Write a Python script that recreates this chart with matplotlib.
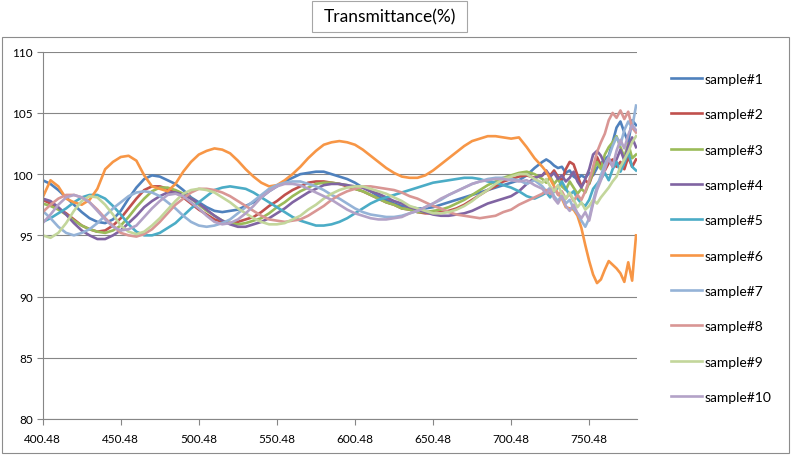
import matplotlib
matplotlib.use("Agg")
import matplotlib.pyplot as plt
from matplotlib.patches import Rectangle

# wavelength grid (nm): 5 nm steps up to 720, then 2.5 nm for the noisy end
wavelength = [
    400.48, 405.48, 410.48, 415.48, 420.48, 425.48, 430.48, 435.48, 440.48, 445.48, 450.48, 455.48, 460.48,
    465.48, 470.48, 475.48, 480.48, 485.48, 490.48, 495.48, 500.48, 505.48, 510.48, 515.48, 520.48, 525.48,
    530.48, 535.48, 540.48, 545.48, 550.48, 555.48, 560.48, 565.48, 570.48, 575.48, 580.48, 585.48, 590.48,
    595.48, 600.48, 605.48, 610.48, 615.48, 620.48, 625.48, 630.48, 635.48, 640.48, 645.48, 650.48, 655.48,
    660.48, 665.48, 670.48, 675.48, 680.48, 685.48, 690.48, 695.48, 700.48, 705.48, 710.48, 715.48, 720.48,
    722.98, 725.48, 727.98, 730.48, 732.98, 735.48, 737.98, 740.48, 742.98, 745.48, 747.98, 750.48,
    752.98, 755.48, 757.98, 760.48, 762.98, 765.48, 767.98, 770.48, 772.98, 775.48, 777.98, 780.48,
]

sample1 = [
    99.5, 99.2, 98.7, 98.1, 97.5, 96.9, 96.4, 96.1, 96.0, 96.3, 97.0, 98.0, 98.9,
    99.6, 99.9, 99.8, 99.5, 99.2, 98.7, 98.1, 97.7, 97.3, 97.0, 96.9, 97.0, 97.1,
    97.4, 97.7, 98.1, 98.6, 99.0, 99.4, 99.7, 100.0, 100.1, 100.2, 100.2, 100.0, 99.8,
    99.6, 99.3, 98.9, 98.6, 98.2, 97.9, 97.6, 97.4, 97.3, 97.2, 97.2, 97.3, 97.5,
    97.7, 97.9, 98.1, 98.3, 98.5, 98.7, 98.9, 99.1, 99.3, 99.5, 99.9, 100.5, 101.0,
    101.2, 101.0, 100.7, 100.5, 100.6, 100.1, 100.3, 99.8, 99.6, 99.9, 99.7, 100.1,
    99.9, 100.5, 100.9, 101.2, 101.5, 102.6, 103.8, 104.3, 103.4, 102.6, 104.4, 104.0,
]
sample2 = [
    97.9, 97.6, 97.2, 96.8, 96.3, 95.8, 95.5, 95.3, 95.4, 95.8, 96.4, 97.2, 98.0,
    98.7, 99.0, 99.0, 98.8, 98.5, 98.1, 97.6, 97.1, 96.7, 96.3, 96.1, 96.0, 96.1,
    96.3, 96.5, 96.9, 97.4, 97.8, 98.3, 98.7, 99.0, 99.3, 99.4, 99.4, 99.3, 99.2,
    99.0, 98.8, 98.6, 98.3, 98.0, 97.7, 97.5, 97.2, 97.1, 96.9, 96.8, 96.8, 96.9,
    97.0, 97.2, 97.5, 97.9, 98.3, 98.7, 99.0, 99.4, 99.6, 99.8, 99.9, 99.7, 99.9,
    100.2, 99.9, 100.3, 99.8, 99.5, 100.4, 101.0, 100.8, 99.9, 99.0, 99.5, 99.2,
    100.1, 101.4, 100.7, 100.3, 100.9, 101.2, 100.6, 101.0, 100.4, 101.4, 100.6, 101.2,
]
sample3 = [
    97.6, 97.4, 97.1, 96.7, 96.2, 95.8, 95.5, 95.3, 95.2, 95.4, 95.8, 96.5, 97.3,
    98.0, 98.6, 98.9, 98.9, 98.7, 98.4, 98.0, 97.5, 97.0, 96.6, 96.2, 96.0, 95.9,
    96.0, 96.2, 96.4, 96.8, 97.3, 97.7, 98.2, 98.6, 98.9, 99.2, 99.3, 99.3, 99.2,
    99.1, 98.8, 98.6, 98.3, 98.0, 97.7, 97.5, 97.2, 97.1, 96.9, 96.9, 97.0, 97.1,
    97.3, 97.6, 97.9, 98.3, 98.7, 99.1, 99.4, 99.7, 99.9, 100.1, 100.2, 100.0, 99.6,
    99.3, 99.8, 99.2, 99.6, 99.0, 98.7, 99.4, 98.9, 98.4, 98.8, 98.5, 99.3,
    100.2, 101.0, 100.4, 101.6, 102.2, 102.6, 103.1, 102.2, 101.4, 102.5, 101.3, 101.6,
]
sample4 = [
    98.0, 97.8, 97.3, 96.7, 96.0, 95.4, 95.0, 94.7, 94.7, 95.0, 95.4, 96.0, 96.6,
    97.3, 97.8, 98.2, 98.5, 98.5, 98.3, 98.0, 97.6, 97.1, 96.6, 96.2, 95.9, 95.7,
    95.7, 95.9, 96.1, 96.4, 96.8, 97.2, 97.7, 98.1, 98.5, 98.8, 99.1, 99.2, 99.2,
    99.1, 99.0, 98.9, 98.6, 98.4, 98.1, 97.8, 97.6, 97.3, 97.1, 96.9, 96.7, 96.6,
    96.6, 96.7, 96.8, 97.0, 97.3, 97.6, 97.8, 98.0, 98.2, 98.6, 99.2, 99.7, 99.9,
    100.3, 99.8, 100.1, 99.6, 99.9, 99.4, 99.7, 100.2, 99.4, 98.9, 99.6, 100.4,
    101.6, 101.9, 101.5, 100.8, 101.3, 100.6, 101.2, 102.0, 101.1, 102.3, 103.0, 102.2,
]
sample5 = [
    96.1, 96.4, 96.8, 97.2, 97.7, 98.1, 98.3, 98.3, 98.0, 97.4, 96.7, 95.9, 95.3,
    95.0, 95.0, 95.2, 95.6, 96.0, 96.6, 97.2, 97.7, 98.2, 98.7, 98.9, 99.0, 98.9,
    98.8, 98.5, 98.1, 97.7, 97.3, 96.9, 96.5, 96.2, 96.0, 95.8, 95.8, 95.9, 96.1,
    96.4, 96.8, 97.2, 97.6, 97.9, 98.1, 98.3, 98.5, 98.7, 98.9, 99.1, 99.3, 99.4,
    99.5, 99.6, 99.7, 99.7, 99.6, 99.4, 99.3, 99.1, 98.9, 98.6, 98.2, 98.0, 98.3,
    98.5, 98.1, 98.6, 98.9, 99.4, 98.8, 98.3, 98.6, 98.0, 97.6, 97.4, 97.9,
    98.8, 99.2, 99.6, 100.1, 99.5, 100.4, 101.0, 100.2, 100.9, 101.8, 100.6, 100.3,
]
sample6 = [
    98.1, 99.5, 99.0, 98.0, 97.7, 97.5, 97.9, 98.8, 100.4, 101.0, 101.4, 101.5, 101.1,
    99.9, 99.0, 98.8, 98.6, 99.2, 100.2, 101.0, 101.6, 101.9, 102.1, 102.0, 101.7, 101.1,
    100.4, 99.8, 99.3, 99.0, 99.1, 99.5, 100.0, 100.6, 101.3, 101.9, 102.4, 102.6, 102.7,
    102.6, 102.4, 102.0, 101.5, 101.0, 100.5, 100.1, 99.8, 99.7, 99.7, 99.9, 100.3, 100.8,
    101.3, 101.8, 102.3, 102.7, 102.9, 103.1, 103.1, 103.0, 102.9, 103.0, 102.2, 101.3, 100.6,
    100.2, 99.6, 99.0, 98.4, 98.0, 97.3, 97.2, 97.1, 96.6, 95.6, 94.2, 92.9,
    91.8, 91.1, 91.4, 92.2, 92.9, 92.6, 92.3, 91.9, 91.2, 92.8, 91.3, 95.0,
]
sample7 = [
    97.0, 96.4, 95.7, 95.2, 95.0, 95.2, 95.5, 96.0, 96.6, 97.2, 97.7, 98.2, 98.5,
    98.6, 98.5, 98.2, 97.7, 97.2, 96.6, 96.1, 95.8, 95.7, 95.8, 96.0, 96.3, 96.8,
    97.3, 97.8, 98.3, 98.8, 99.1, 99.3, 99.4, 99.4, 99.2, 99.0, 98.7, 98.3, 98.0,
    97.6, 97.2, 96.9, 96.7, 96.6, 96.5, 96.5, 96.6, 96.8, 97.0, 97.3, 97.6, 97.9,
    98.3, 98.6, 98.9, 99.2, 99.4, 99.6, 99.7, 99.7, 99.6, 99.5, 99.2, 99.5, 99.0,
    98.6, 98.9, 98.2, 97.8, 98.3, 97.6, 97.9, 97.2, 96.8, 96.2, 95.7, 96.4,
    97.8, 99.0, 99.9, 100.8, 101.4, 102.3, 103.0, 102.4, 103.6, 104.3, 103.8, 105.6,
]
sample8 = [
    96.9, 97.5, 98.0, 98.3, 98.3, 98.1, 97.7, 97.1, 96.4, 95.8, 95.2, 95.0, 94.9,
    95.1, 95.5, 96.1, 96.8, 97.5, 98.0, 98.5, 98.8, 98.8, 98.7, 98.5, 98.2, 97.8,
    97.4, 97.0, 96.6, 96.3, 96.2, 96.1, 96.2, 96.3, 96.6, 97.0, 97.4, 97.9, 98.3,
    98.6, 98.8, 99.0, 99.0, 98.9, 98.8, 98.7, 98.5, 98.2, 98.0, 97.7, 97.4, 97.2,
    96.9, 96.7, 96.6, 96.5, 96.4, 96.5, 96.6, 96.9, 97.1, 97.5, 97.8, 98.1, 98.4,
    98.7, 98.4, 98.9, 98.3, 98.6, 98.0, 98.4, 97.8, 98.3, 97.9, 98.6, 99.5,
    100.6, 101.8, 102.6, 103.3, 104.4, 105.0, 104.6, 105.2, 104.5, 105.1, 103.8, 103.4,
]
sample9 = [
    95.0, 94.8, 95.2, 96.0, 97.0, 97.8, 98.2, 98.1, 97.5, 96.7, 95.8, 95.3, 95.1,
    95.3, 95.8, 96.4, 97.1, 97.8, 98.4, 98.7, 98.8, 98.7, 98.5, 98.1, 97.7, 97.2,
    96.8, 96.4, 96.1, 95.9, 95.9, 96.0, 96.3, 96.6, 97.1, 97.5, 98.0, 98.4, 98.7,
    98.9, 99.0, 99.0, 98.8, 98.6, 98.4, 98.1, 97.8, 97.4, 97.2, 97.0, 96.8, 96.8,
    96.9, 97.1, 97.4, 97.8, 98.3, 98.7, 99.2, 99.6, 99.8, 100.0, 100.0, 99.6, 99.3,
    99.6, 99.0, 98.6, 99.1, 98.4, 98.0, 98.5, 97.9, 97.3, 97.7, 97.1, 97.4,
    97.9, 97.6, 98.1, 98.5, 98.9, 99.4, 99.8, 100.6, 101.2, 101.8, 102.6, 103.1,
]
sample10 = [
    96.0, 96.7, 97.5, 98.1, 98.3, 98.1, 97.7, 97.0, 96.3, 95.7, 95.4, 95.5, 95.8,
    96.5, 97.2, 97.8, 98.3, 98.4, 98.2, 97.7, 97.2, 96.6, 96.1, 95.9, 96.0, 96.3,
    96.8, 97.4, 98.1, 98.6, 99.0, 99.2, 99.2, 99.1, 98.8, 98.5, 98.2, 97.9, 97.5,
    97.1, 96.8, 96.6, 96.4, 96.3, 96.3, 96.4, 96.5, 96.8, 97.0, 97.3, 97.6, 98.0,
    98.3, 98.6, 98.9, 99.2, 99.4, 99.5, 99.6, 99.6, 99.5, 99.4, 99.5, 99.1, 98.8,
    98.4, 98.8, 98.0, 97.6, 98.2, 97.4, 97.0, 97.5, 96.8, 96.4, 96.9, 96.2,
    97.6, 98.7, 99.5, 100.4, 101.3, 100.6, 101.9, 102.8, 102.1, 103.2, 104.0, 103.6,
]

series = [sample1, sample2, sample3, sample4, sample5,
          sample6, sample7, sample8, sample9, sample10]
labels = ["sample#%d" % i for i in range(1, 11)]
colors = ["#4F81BD", "#C0504D", "#9BBB59", "#8064A2", "#4BACC6",
          "#F79646", "#95B3D7", "#D99694", "#C3D69B", "#B3A2C7"]

x_ticks = [400.48, 450.48, 500.48, 550.48, 600.48, 650.48, 700.48, 750.48]
y_ticks = [80, 85, 90, 95, 100, 105, 110]

plt.rcParams['font.family'] = ['Lato', 'DejaVu Sans']

W, H = 791, 456
fig = plt.figure(figsize=(W / 100, H / 100), dpi=100)

# outer chart border (Excel chart area)
fig.patches.append(Rectangle((2 / W, 2 / H), 787 / W, 416 / H, transform=fig.transFigure,
                             fill=False, ec="#8c8c8c", lw=0.8))

# title in its own little box
fig.patches.append(Rectangle((312 / W, 1 - 33 / H), 155 / W, 31 / H, transform=fig.transFigure,
                             fc="white", ec="#a6a6a6", lw=0.8))
fig.text(389.5 / W, 1 - 17.5 / H, "Transmittance(%)", ha="center", va="center", fontsize=12.5)

ax = fig.add_axes([42.7 / W, 1 - 420 / H, (636.7 - 42.7) / W, (420 - 52.7) / H])

for vals, name, col in zip(series, labels, colors):
    ax.plot(wavelength, vals, color=col, lw=1.9, label=name, solid_joinstyle="round")

ax.set_xlim(400.48, 780.9)
ax.set_ylim(80, 110)
ax.set_yticks(y_ticks)
ax.set_xticks(x_ticks)
ax.set_xticklabels(["%.2f" % v for v in x_ticks])
ax.grid(axis="y", color="#868686", lw=0.8)
ax.set_axisbelow(True)
for side in ["top", "right"]:
    ax.spines[side].set_visible(False)
for side in ["left", "bottom"]:
    ax.spines[side].set_color("#868686")
    ax.spines[side].set_linewidth(0.8)
ax.tick_params(length=4, width=0.8, color="#868686", labelsize=8.5)
ax.tick_params(axis="x", pad=6)
ax.tick_params(axis="y", pad=3)

fig.legend(loc="upper left", bbox_to_anchor=(671 / W, 1 - 74 / H), frameon=False,
           handlelength=2.2, handletextpad=0.2, labelspacing=1.68, fontsize=10,
           borderpad=0, borderaxespad=0)

fig.savefig("out.png", dpi=100)
